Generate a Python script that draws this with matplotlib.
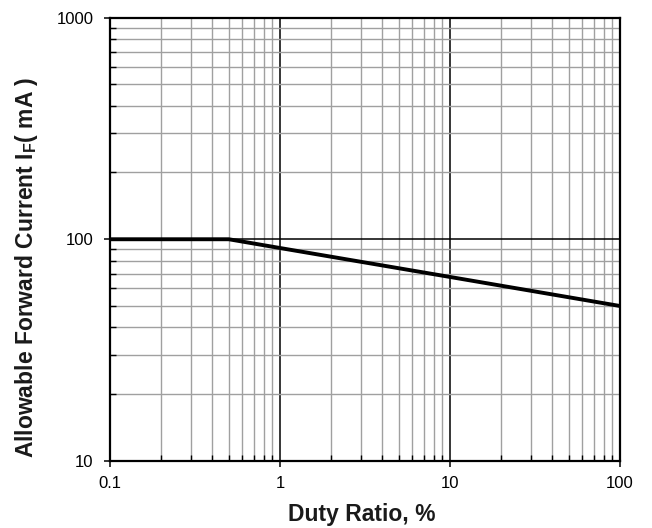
import matplotlib
matplotlib.use("Agg")
import matplotlib.pyplot as plt
from matplotlib.ticker import LogLocator, NullFormatter, FixedLocator, FixedFormatter

plt.rcParams['font.family'] = ['Liberation Sans', 'DejaVu Sans']
plt.rcParams['mathtext.fontset'] = 'custom'
plt.rcParams['mathtext.rm'] = 'Liberation Sans'
plt.rcParams['mathtext.bf'] = 'Liberation Sans:bold'

duty = [0.1, 0.5, 1, 10, 100]
current = [100, 100, 91.3, 67.6, 50]
xticks = [0.1, 1, 10, 100]
xticklabels = ['0.1', '1', '10', '100']
yticks = [10, 100, 1000]
yticklabels = ['10', '100', '1000']

W, H = 652, 528
fig = plt.figure(figsize=(W/100, H/100), dpi=100)
ax = fig.add_axes([110/W, 1-461/H, 510/W, (461-17.5)/H])
ax.set_xscale('log')
ax.set_yscale('log')
ax.set_xlim(0.1, 100)
ax.set_ylim(10, 1000)

ax.xaxis.set_major_locator(FixedLocator(xticks))
ax.xaxis.set_major_formatter(FixedFormatter(xticklabels))
ax.yaxis.set_major_locator(FixedLocator(yticks))
ax.yaxis.set_major_formatter(FixedFormatter(yticklabels))
ax.xaxis.set_minor_locator(LogLocator(base=10, subs=range(2, 10)))
ax.yaxis.set_minor_locator(LogLocator(base=10, subs=range(2, 10)))
ax.xaxis.set_minor_formatter(NullFormatter())
ax.yaxis.set_minor_formatter(NullFormatter())

ax.grid(which='minor', color='#a0a0a0', linewidth=1.0)
ax.grid(which='major', color='#000000', linewidth=1.1)
ax.set_axisbelow(True)

ax.plot(duty, current, color='black', linewidth=2.8, solid_capstyle='butt', zorder=3)

for s in ax.spines.values():
    s.set_linewidth(1.6)
ax.tick_params(which='major', direction='out', length=4, width=1.1, labelsize=12)
ax.tick_params(axis='y', which='major', pad=8)
ax.tick_params(axis='x', which='major', pad=6.5)
ax.tick_params(which='minor', direction='in', length=4, width=1.0)
ax.tick_params(axis='both', which='both', top=False, right=False)

fig.text(362/W, 1-520.5/H, 'Duty Ratio, %', fontsize=16.5, fontweight='bold',
         ha='center', va='baseline', color='#1a1a1a')
fig.text(33/W, 1-267.5/H, r'Allowable Forward Current I$_{\mathbf{F}}$( mA )',
         fontsize=16.5, fontweight='bold', rotation=90, rotation_mode='anchor',
         ha='center', va='baseline', color='#1a1a1a')

fig.savefig('out.png', dpi=100)
